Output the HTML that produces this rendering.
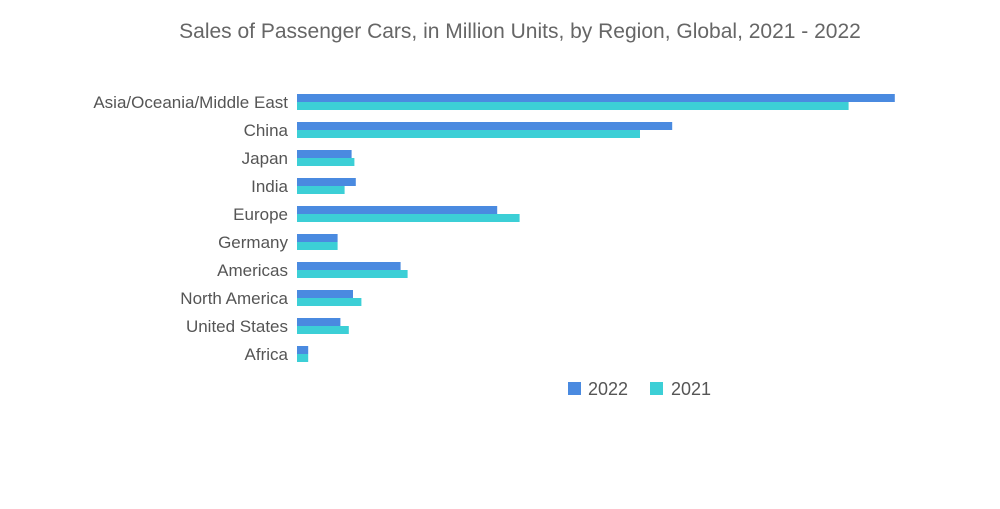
<!DOCTYPE html>
<html><head><meta charset="utf-8"><style>
body{margin:0;background:#fff;width:1000px;height:504px;overflow:hidden;font-family:"Liberation Sans",sans-serif}
</style></head><body>
<svg id="chart" width="1000" height="504">
<text x="520" y="38" text-anchor="middle" font-size="21" fill="#666">Sales of Passenger Cars, in Million Units, by Region, Global, 2021 - 2022</text>
<g id="bars"></g>
<g>
<rect x="568" y="382" width="13" height="13" fill="#4a8ae0"/>
<text x="588" y="395" font-size="18" fill="#555">2022</text>
<rect x="650" y="382" width="13" height="13" fill="#3ccfd6"/>
<text x="671" y="395" font-size="18" fill="#555">2021</text>
</g>
</svg>
<script>
const categories=["Asia/Oceania/Middle East","China","Japan","India","Europe","Germany","Americas","North America","United States","Africa"];
const values2022=[42.7,26.8,3.9,4.2,14.3,2.9,7.4,4.0,3.1,0.8];
const values2021=[39.4,24.5,4.1,3.4,15.9,2.9,7.9,4.6,3.7,0.8];
const x0=297,pxPer=14,rowTop=94,rowStep=28,bh=8;
const xs=v=>v*pxPer;
const g=document.getElementById('bars');
const ns='http://www.w3.org/2000/svg';
categories.forEach((c,i)=>{
  const y=rowTop+i*rowStep;
  const t=document.createElementNS(ns,'text');
  t.setAttribute('x',288);t.setAttribute('y',y+14);t.setAttribute('text-anchor','end');
  t.setAttribute('font-size','17');t.setAttribute('fill','#555');t.textContent=c;
  
  
  g.appendChild(t);
  const a=document.createElementNS(ns,'rect');
  a.setAttribute('x',x0);a.setAttribute('y',y);a.setAttribute('width',xs(values2022[i]));a.setAttribute('height',bh);a.setAttribute('fill','#4a8ae0');
  
  
  g.appendChild(a);
  const b=document.createElementNS(ns,'rect');
  b.setAttribute('x',x0);b.setAttribute('y',y+bh);b.setAttribute('width',xs(values2021[i]));b.setAttribute('height',bh);b.setAttribute('fill','#3ccfd6');
  
  
  g.appendChild(b);
});
</script>
</body></html>
